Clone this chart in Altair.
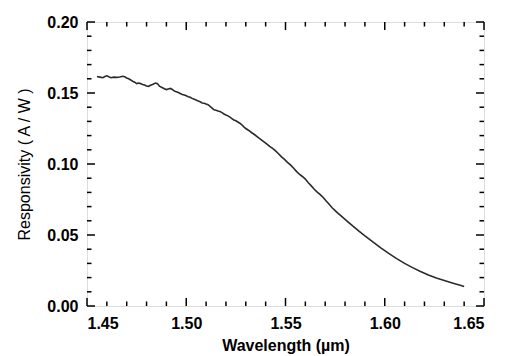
import altair as alt
import pandas as pd

wavelength = [1.4550, 1.4565, 1.4580, 1.4590, 1.4600, 1.4610, 1.4620, 1.4635, 1.4650, 1.4665,
              1.4680, 1.4690, 1.4700, 1.4710, 1.4720, 1.4730, 1.4740, 1.4750, 1.4760, 1.4770,
              1.4780, 1.4790, 1.4800, 1.4810, 1.4820, 1.4830, 1.4845, 1.4855, 1.4865, 1.4880,
              1.4890, 1.4900, 1.4910, 1.4920, 1.4930, 1.4940, 1.4950, 1.4960, 1.4970, 1.4980,
              1.4990, 1.5000, 1.5010, 1.5020, 1.5030, 1.5040, 1.5050, 1.5060, 1.5070, 1.5080,
              1.5090, 1.5100, 1.5110, 1.5120, 1.5130, 1.5140, 1.5150, 1.5160, 1.5170, 1.5180,
              1.5190, 1.5200, 1.5210, 1.5220, 1.5230, 1.5240, 1.5250, 1.5260, 1.5270, 1.5280,
              1.5290, 1.5300, 1.5315, 1.5330, 1.5345, 1.5360, 1.5375, 1.5390, 1.5405, 1.5420,
              1.5435, 1.5450, 1.5465, 1.5480, 1.5495, 1.5510, 1.5525, 1.5540, 1.5555, 1.5570,
              1.5585, 1.5600, 1.5615, 1.5630, 1.5645, 1.5660, 1.5675, 1.5690, 1.5705, 1.5720,
              1.5735, 1.5750, 1.5765, 1.5780, 1.5810, 1.5840, 1.5870, 1.5900, 1.5940, 1.5980,
              1.6020, 1.6060, 1.6100, 1.6140, 1.6180, 1.6220, 1.6260, 1.6300, 1.6340, 1.6380,
              1.6400]
responsivity = [0.1616, 0.1612, 0.1608, 0.1616, 0.1621, 0.1614, 0.1608, 0.1612, 0.1610, 0.1613,
                0.1618, 0.1614, 0.1606, 0.1600, 0.1592, 0.1583, 0.1576, 0.1566, 0.1570, 0.1566,
                0.1560, 0.1556, 0.1549, 0.1547, 0.1554, 0.1560, 0.1570, 0.1566, 0.1548, 0.1537,
                0.1530, 0.1524, 0.1528, 0.1532, 0.1525, 0.1514, 0.1508, 0.1504, 0.1496, 0.1490,
                0.1486, 0.1480, 0.1474, 0.1470, 0.1462, 0.1456, 0.1450, 0.1443, 0.1438, 0.1430,
                0.1428, 0.1422, 0.1418, 0.1406, 0.1394, 0.1382, 0.1378, 0.1373, 0.1369, 0.1362,
                0.1352, 0.1345, 0.1339, 0.1330, 0.1320, 0.1310, 0.1304, 0.1296, 0.1287, 0.1276,
                0.1262, 0.1250, 0.1236, 0.1220, 0.1206, 0.1190, 0.1174, 0.1158, 0.1142, 0.1124,
                0.1110, 0.1092, 0.1072, 0.1050, 0.1032, 0.1012, 0.0994, 0.0972, 0.0948, 0.0928,
                0.0912, 0.0894, 0.0868, 0.0846, 0.0822, 0.0802, 0.0784, 0.0764, 0.0740, 0.0716,
                0.0692, 0.0672, 0.0652, 0.0634, 0.0598, 0.0562, 0.0528, 0.0494, 0.0452, 0.0410,
                0.0370, 0.0334, 0.0300, 0.0270, 0.0243, 0.0218, 0.0197, 0.0179, 0.0162, 0.0146,
                0.0138]

x_major = [1.45, 1.50, 1.55, 1.60, 1.65]
x_minor = [1.46, 1.47, 1.48, 1.49, 1.51, 1.52, 1.53, 1.54, 1.56, 1.57, 1.58, 1.59,
           1.61, 1.62, 1.63, 1.64]
y_major = [0.00, 0.05, 0.10, 0.15, 0.20]
y_minor = [0.01, 0.02, 0.03, 0.04, 0.06, 0.07, 0.08, 0.09, 0.11, 0.12, 0.13, 0.14,
           0.16, 0.17, 0.18, 0.19]

W, H = 397, 284
MAJ, MIN = 8, 4.5
FONT = "Liberation Sans"

df = pd.DataFrame({"x": wavelength, "y": responsivity})
xs = alt.Scale(domain=[1.45, 1.65], nice=False, zero=False)
ys = alt.Scale(domain=[0, 0.20], nice=False, zero=False)

line = alt.Chart(df).mark_line(color="#2b2b2b", strokeWidth=1.6).encode(
    x=alt.X("x:Q", scale=xs, axis=alt.Axis(
        values=x_major, format=".2f", ticks=False, domain=False, grid=False,
        labelFont=FONT, labelFontSize=16, labelFontWeight="bold", labelColor="black",
        labelPadding=9, title="Wavelength (µm)", titleFont=FONT, titleFontSize=16,
        titleFontWeight="bold", titleColor="black", titlePadding=6)),
    y=alt.Y("y:Q", scale=ys, axis=alt.Axis(
        values=y_major, format=".2f", ticks=False, domain=False, grid=False,
        labelFont=FONT, labelFontSize=16, labelFontWeight="bold", labelColor="black",
        labelPadding=9, title="Responsivity ( A / W )", titleFont=FONT, titleFontSize=16,
        titleFontWeight="normal", titleColor="black", titlePadding=14)),
)

def xticks(vals, length):
    d = pd.DataFrame({"x": vals})
    bottom = alt.Chart(d).mark_rule(color="black", strokeWidth=1.5).encode(
        x=alt.X("x:Q", scale=xs), y=alt.value(H), y2=alt.value(H - length))
    top = alt.Chart(d).mark_rule(color="black", strokeWidth=1.5).encode(
        x=alt.X("x:Q", scale=xs), y=alt.value(0), y2=alt.value(length))
    return [bottom, top]

def yticks(vals, length):
    d = pd.DataFrame({"y": vals})
    left = alt.Chart(d).mark_rule(color="black", strokeWidth=1.5).encode(
        y=alt.Y("y:Q", scale=ys), x=alt.value(0), x2=alt.value(length))
    right = alt.Chart(d).mark_rule(color="black", strokeWidth=1.5).encode(
        y=alt.Y("y:Q", scale=ys), x=alt.value(W), x2=alt.value(W - length))
    return [left, right]

layers = [line] + xticks(x_major, MAJ) + xticks(x_minor, MIN) + yticks(y_major, MAJ) + yticks(y_minor, MIN)

chart = alt.layer(*layers).properties(
    width=W, height=H,
    autosize=alt.AutoSizeParams(type="none"),
    padding={"left": 79, "top": 14, "right": 16, "bottom": 48},
).configure_view(stroke="black", strokeWidth=1.6).configure(background="white")

chart.save("out.html", embed_options={"renderer": "svg", "actions": False})
